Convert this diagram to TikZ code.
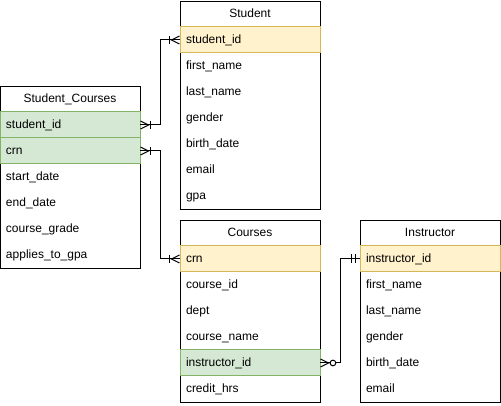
\documentclass[tikz,border=0pt]{standalone}
\usepackage{fontspec}
\setmainfont{Liberation Sans}
\usetikzlibrary{positioning,arrows.meta,backgrounds}
\definecolor{pkfill}{HTML}{FFF2CC}
\definecolor{pkline}{HTML}{D6B656}
\definecolor{fkfill}{HTML}{D5E8D4}
\definecolor{fkline}{HTML}{82B366}
\tikzset{
  header/.style={minimum width=105pt, minimum height=19.5pt, inner sep=0pt, outer sep=0pt, text height=7pt, text depth=2pt},
  field/.style={text width=96pt, align=left, minimum height=19.5pt, inner xsep=4.5pt, inner ysep=0pt, outer sep=0pt, text height=7pt, text depth=2pt},
  pk/.style={field, fill=pkfill, draw=pkline},
  fk/.style={field, fill=fkfill, draw=fkline},
  relation/.style={preaction={draw, arrows=-}},
  crow/.tip={Straight Barb[reversed, length=6pt, width=6pt]},
  onemany/.tip={Bar[width=6pt] crow},
  zeromany/.tip={Circle[open, length=5pt, fill=white] crow},
  mandone/.tip={Bar[width=6.75pt, sep=2pt] Bar[width=6.75pt, sep=3pt]},
}
\begin{document}
\begin{tikzpicture}[x=0.75pt, y=-0.75pt, line width=0.75pt, font=\fontsize{9}{11}\selectfont]
\useasboundingbox (0,0) rectangle (501,406);
% Student
\node[header] (st0) at (250,14) {Student};
\foreach \t/\s [count=\i, remember=\i as \j (initially 0)] in
  {student\_id/pk, first\_name/field, last\_name/field, gender/field, birth\_date/field, email/field, gpa/field}
  \node[\s, below=0pt of st\j] (st\i) {\t};
% Student_Courses
\node[header] (sc0) at (70,99) {Student\_Courses};
\foreach \t/\s [count=\i, remember=\i as \j (initially 0)] in
  {student\_id/fk, crn/fk, start\_date/field, end\_date/field, course\_grade/field, applies\_to\_gpa/field}
  \node[\s, below=0pt of sc\j] (sc\i) {\t};
% Courses
\node[header] (co0) at (250,233) {Courses};
\foreach \t/\s [count=\i, remember=\i as \j (initially 0)] in
  {crn/pk, course\_id/field, dept/field, course\_name/field, instructor\_id/fk, credit\_hrs/field}
  \node[\s, below=0pt of co\j] (co\i) {\t};
% Instructor
\node[header] (in0) at (430,233) {Instructor};
\foreach \t/\s [count=\i, remember=\i as \j (initially 0)] in
  {instructor\_id/pk, first\_name/field, last\_name/field, gender/field, birth\_date/field, email/field}
  \node[\s, below=0pt of in\j] (in\i) {\t};
% table frames
\begin{scope}[on background layer]
  \draw (st0.north west) rectangle (st7.south east);
  \draw (sc0.north west) rectangle (sc6.south east);
  \draw (co0.north west) rectangle (co6.south east);
  \draw (in0.north west) rectangle (in6.south east);
\end{scope}
% relations
\draw[relation, {onemany}-{onemany}] (sc1.east) -- ++(20,0) |- (st1.west);
\draw[relation, {onemany}-{onemany}] (sc2.east) -- ++(20,0) |- (co1.west);
\draw[relation, {zeromany}-{mandone}] (co5.east) -- ++(20,0) |- (in1.west);
\end{tikzpicture}
\end{document}
